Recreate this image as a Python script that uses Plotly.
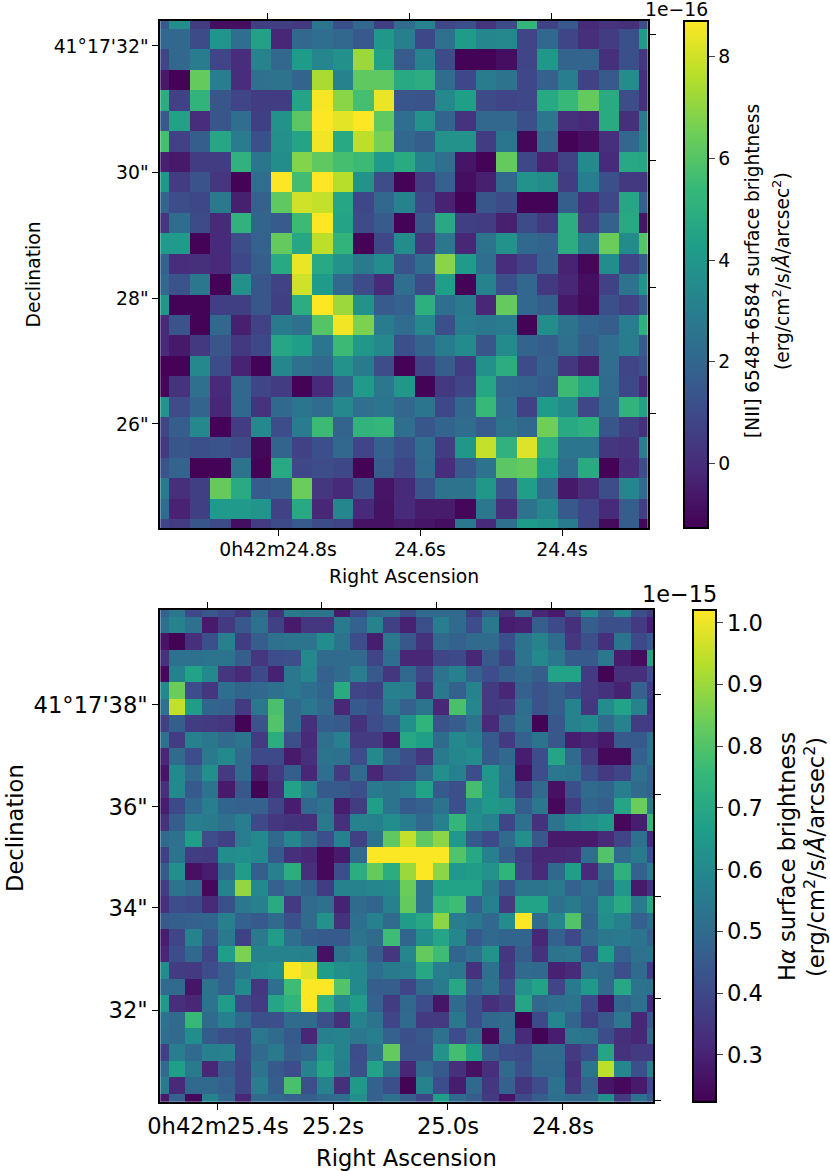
import plotly.graph_objects as go

# [NII] surface brightness, units of 1e-16, rows from top to bottom
nii = [
[1.5,3.6,0.5,-0.9,-0.9,0.6,0.6,0.4,2.6,1.2,2.0,0.6,2.2,3.2,0.9,1.2,0.2,1.0,5.3,0.7,1.5,-0.1,0.2,0.1,1.1],
[2.0,2.0,1.0,3.9,2.3,4.4,-0.2,2.0,2.3,2.0,1.5,4.0,3.0,0.9,2.4,4.2,3.3,3.4,0.8,2.1,0.8,0.1,0.5,1.2,4.2],
[0.8,2.0,2.9,0.8,0.0,3.2,2.0,4.2,3.3,3.7,7.2,4.4,1.6,3.2,1.0,-1.2,-1.2,-0.9,0.8,4.0,1.9,1.9,0.1,1.2,0.3],
[-0.6,-1.2,6.3,3.0,0.0,2.4,2.5,1.9,7.4,3.2,6.2,6.2,4.7,4.9,2.2,0.9,2.9,2.5,0.9,1.8,3.0,0.7,1.5,3.6,0.1],
[4.9,0.7,5.2,1.4,0.8,0.5,0.5,4.5,8.6,6.9,5.7,8.4,1.4,1.3,3.4,4.3,1.0,0.8,0.9,4.7,5.4,6.3,4.8,1.1,0.1],
[1.5,4.4,0.0,1.4,2.3,0.6,3.8,6.1,8.7,8.3,8.7,6.2,2.3,3.8,1.9,0.2,2.0,2.0,1.2,2.7,0.1,-0.1,4.8,0.1,2.8],
[5.7,0.7,1.7,4.6,2.9,1.2,3.7,4.5,8.5,4.7,7.7,6.6,2.0,1.7,3.8,3.8,0.5,2.6,-1.1,2.0,-1.2,-0.9,0.1,2.0,3.2],
[-0.4,-0.6,0.5,0.5,5.1,2.6,3.6,6.8,6.2,5.7,5.5,4.1,4.8,3.2,2.4,-0.7,-1.2,6.3,0.9,-0.3,0.7,3.5,-0.1,4.7,4.6],
[4.0,0.5,1.3,0.3,-1.2,2.3,8.7,5.6,8.7,7.6,3.8,1.1,-1.2,0.5,1.8,-0.9,-0.4,2.0,3.8,3.6,0.5,3.0,1.2,0.4,0.4],
[1.9,1.1,0.9,2.8,-0.4,1.8,6.2,8.0,7.8,4.6,0.9,2.0,3.2,0.9,-0.3,-1.2,1.4,1.0,-1.2,-1.2,1.7,0.1,0.9,4.6,1.8],
[0.3,2.2,1.0,-0.1,5.1,1.9,1.6,5.5,8.7,4.5,1.0,1.6,-1.2,1.4,4.7,0.6,0.5,-0.4,1.0,0.4,4.9,0.5,1.8,4.7,-0.7],
[4.1,4.1,-1.2,-0.1,1.1,1.8,6.3,4.6,7.7,5.2,-1.2,0.9,3.6,0.3,2.7,-0.2,2.5,3.8,2.1,1.9,4.9,2.9,6.4,3.5,6.0],
[1.8,0.0,0.1,-0.1,0.9,1.7,4.7,8.4,4.7,3.8,2.8,3.6,1.3,2.3,6.9,4.1,2.3,0.0,0.7,1.8,-0.3,-1.1,3.6,0.8,1.6],
[2.0,1.3,2.7,-1.2,3.7,1.4,0.7,8.0,4.2,2.1,1.0,-0.1,2.3,1.0,4.3,-1.2,3.2,1.2,2.0,0.4,-0.2,-0.9,0.7,2.5,3.9],
[4.0,-1.2,-1.2,0.6,0.6,1.4,0.6,4.9,8.7,7.2,3.8,1.6,1.8,5.0,2.3,2.8,-0.2,6.3,2.0,1.7,-0.6,-1.0,1.2,0.7,1.5],
[-0.1,1.3,-1.2,2.0,-0.4,0.7,2.8,2.4,6.0,8.5,6.7,2.9,2.2,3.4,1.2,2.9,2.7,2.9,-1.2,3.6,2.5,1.9,1.7,3.0,5.0],
[-0.1,-0.6,0.4,1.4,0.4,0.9,4.6,4.3,2.6,5.5,4.0,3.4,1.2,1.9,2.9,3.5,1.4,3.5,1.9,1.7,2.4,1.7,2.3,2.9,1.6],
[-1.2,-1.2,3.4,1.0,-0.3,-1.2,3.3,2.4,2.1,3.8,2.8,1.1,-1.2,0.7,1.7,0.5,3.7,4.9,1.0,1.8,0.3,-0.4,2.3,0.8,1.2],
[-1.1,0.2,2.4,-0.1,2.0,0.8,0.5,-1.2,-0.1,1.9,4.1,2.7,4.0,-1.2,0.4,0.8,4.6,2.0,1.9,1.6,5.5,4.6,2.2,0.9,-0.1],
[3.8,1.1,1.9,-0.2,2.1,0.2,2.1,2.6,2.2,3.4,2.4,2.6,2.0,2.6,0.9,2.0,5.4,2.3,0.7,4.1,3.5,0.9,2.0,5.2,4.4],
[0.8,1.7,3.4,-1.2,0.5,3.4,1.1,2.9,5.5,1.9,5.2,5.3,2.3,1.4,1.9,2.2,1.6,2.5,2.1,6.5,4.7,5.0,1.4,0.6,0.1],
[0.4,1.4,1.2,1.3,1.0,-1.1,1.9,0.7,1.2,2.0,0.8,1.8,1.2,2.3,0.5,4.0,7.8,5.1,8.2,4.9,2.6,2.6,0.3,0.2,3.0],
[1.3,1.9,-1.2,-1.2,2.5,-1.2,4.7,0.9,1.1,0.9,-1.2,1.6,0.8,2.2,0.0,1.5,2.5,6.1,6.3,4.2,2.3,4.8,-1.2,0.0,1.1],
[2.8,0.1,0.6,6.3,4.8,1.6,1.8,6.4,0.3,-0.1,1.2,-0.7,-0.1,1.3,2.5,2.5,4.0,1.3,4.3,2.2,-0.6,0.0,1.1,3.3,2.2],
[2.2,-0.3,0.6,4.1,4.1,3.9,0.7,4.7,-0.2,3.3,-0.1,-0.8,-0.1,-0.5,-0.5,-1.1,2.7,0.1,2.5,3.3,1.5,0.8,-0.1,1.7,0.6],
[0.8,0.5,1.4,1.0,-0.9,0.5,1.0,1.6,1.0,0.8,-0.8,-0.8,-0.5,-0.7,-0.9,2.7,-0.1,2.4,4.2,3.9,2.9,0.8,-1.0,1.7,-1.1],
]

# H-alpha surface brightness, units of 1e-15, rows from top to bottom
halpha = [
[.47,.54,.40,.44,.40,.35,.50,.33,.55,.53,.53,.28,.40,.50,.52,.42,.50,.50,.50,.36,.47,.33,.50,.31,.28,.44,.60,.46,.60,.42,.36],
[.51,.58,.52,.28,.36,.44,.52,.38,.28,.35,.35,.55,.47,.58,.38,.30,.42,.56,.50,.41,.54,.29,.30,.46,.40,.33,.46,.42,.42,.36,.29],
[.27,.23,.33,.42,.57,.37,.46,.52,.53,.53,.61,.53,.41,.29,.54,.44,.34,.50,.47,.50,.50,.42,.53,.58,.50,.35,.42,.33,.53,.40,.45],
[.34,.52,.52,.53,.53,.46,.35,.41,.42,.60,.50,.50,.50,.39,.51,.31,.31,.39,.40,.31,.45,.38,.53,.60,.54,.45,.45,.54,.29,.25,.68],
[.24,.57,.68,.60,.35,.32,.40,.30,.54,.59,.47,.50,.56,.45,.35,.49,.39,.53,.57,.47,.41,.46,.49,.46,.68,.68,.36,.23,.33,.33,.42],
[.60,.84,.41,.35,.51,.48,.49,.52,.54,.51,.48,.71,.39,.38,.57,.56,.33,.54,.47,.58,.36,.31,.47,.43,.46,.42,.36,.34,.30,.47,.37],
[.52,.95,.66,.48,.47,.36,.54,.79,.50,.54,.50,.31,.45,.42,.54,.47,.53,.31,.79,.59,.36,.37,.51,.43,.46,.58,.35,.61,.68,.58,.34],
[.38,.46,.37,.36,.35,.23,.43,.80,.50,.33,.46,.45,.34,.41,.45,.62,.74,.43,.46,.53,.32,.46,.52,.23,.44,.58,.60,.50,.58,.37,.36],
[.52,.37,.57,.54,.50,.53,.36,.72,.42,.32,.52,.57,.36,.36,.29,.70,.67,.50,.60,.56,.45,.36,.47,.53,.44,.29,.31,.28,.45,.45,.52],
[.31,.50,.41,.55,.60,.50,.40,.40,.28,.33,.53,.52,.41,.60,.48,.42,.35,.55,.59,.61,.45,.49,.29,.41,.69,.50,.36,.24,.24,.47,.52],
[.27,.60,.50,.62,.36,.50,.28,.36,.46,.31,.51,.36,.50,.31,.39,.40,.50,.62,.57,.41,.64,.53,.26,.41,.54,.53,.42,.36,.39,.52,.47],
[.33,.60,.45,.53,.28,.44,.23,.33,.68,.58,.45,.45,.42,.55,.53,.56,.68,.45,.42,.78,.64,.52,.38,.50,.26,.42,.50,.48,.56,.50,.47],
[.29,.40,.49,.56,.48,.47,.47,.39,.29,.49,.53,.29,.37,.67,.53,.45,.47,.53,.42,.60,.65,.63,.46,.54,.24,.37,.48,.46,.69,.84,.55],
[.34,.46,.56,.55,.52,.56,.40,.35,.34,.33,.55,.33,.58,.57,.61,.56,.49,.57,.75,.61,.58,.39,.52,.34,.53,.60,.62,.65,.24,.29,.75],
[.50,.52,.67,.41,.38,.56,.60,.49,.59,.50,.42,.57,.38,.53,.82,.95,.82,.88,.65,.45,.40,.50,.62,.44,.28,.28,.28,.32,.39,.52,.31],
[.38,.53,.37,.36,.61,.62,.60,.45,.33,.31,.24,.28,.50,1.02,1.02,1.02,1.02,1.02,.80,.70,.57,.46,.38,.31,.31,.32,.51,.80,.50,.55,.42],
[.45,.62,.26,.29,.50,.66,.46,.57,.72,.33,.24,.41,.72,.83,.72,.90,1.02,.88,.65,.66,.63,.74,.39,.32,.49,.67,.32,.50,.73,.47,.56],
[.37,.53,.49,.24,.58,.89,.60,.47,.52,.47,.37,.58,.58,.59,.60,.84,.53,.68,.68,.68,.55,.44,.53,.53,.55,.47,.51,.46,.64,.28,.34],
[.33,.41,.40,.32,.42,.54,.57,.71,.36,.50,.52,.30,.50,.48,.57,.83,.53,.75,.77,.47,.57,.36,.68,.68,.52,.55,.50,.63,.71,.55,.70],
[.45,.46,.47,.48,.57,.47,.45,.50,.42,.50,.63,.34,.51,.57,.50,.66,.70,.88,.56,.54,.49,.61,1.02,.50,.59,.80,.48,.62,.57,.47,.51],
[.29,.39,.58,.44,.55,.38,.55,.66,.51,.46,.45,.45,.53,.50,.77,.48,.62,.69,.59,.45,.49,.48,.48,.31,.47,.40,.50,.54,.55,.53,.47],
[.31,.41,.49,.39,.67,.86,.58,.58,.58,.57,.26,.53,.57,.46,.35,.59,.83,.77,.48,.52,.63,.35,.46,.34,.53,.54,.40,.67,.47,.52,.53],
[.61,.37,.36,.41,.47,.54,.60,.62,1.02,.98,.66,.62,.60,.51,.55,.56,.70,.56,.54,.34,.52,.36,.50,.49,.30,.32,.52,.50,.42,.50,.36],
[.50,.50,.27,.53,.47,.60,.35,.51,.77,1.02,1.02,.80,.60,.46,.46,.39,.50,.55,.70,.47,.53,.41,.63,.68,.39,.55,.65,.50,.70,.53,.51],
[.65,.33,.31,.53,.66,.40,.36,.69,.74,1.02,.73,.60,.66,.47,.37,.49,.41,.27,.50,.42,.33,.37,.69,.49,.51,.53,.40,.27,.48,.52,.32],
[.53,.50,.76,.50,.57,.49,.42,.42,.50,.50,.42,.33,.58,.53,.39,.50,.36,.36,.54,.42,.49,.50,.23,.40,.59,.48,.38,.44,.54,.31,.45],
[.51,.50,.61,.45,.42,.40,.54,.50,.45,.31,.57,.58,.54,.56,.47,.42,.44,.52,.41,.50,.24,.50,.32,.23,.29,.54,.53,.41,.33,.31,.50],
[.38,.56,.50,.57,.58,.40,.50,.55,.46,.49,.64,.58,.41,.53,.83,.43,.43,.63,.78,.67,.46,.41,.40,.50,.50,.36,.41,.69,.34,.36,.36],
[.50,.67,.55,.31,.45,.39,.53,.45,.41,.58,.69,.56,.42,.68,.53,.31,.50,.45,.33,.26,.33,.50,.42,.49,.49,.34,.53,.94,.59,.42,.57],
[.55,.32,.49,.49,.47,.39,.56,.46,.79,.42,.58,.33,.65,.47,.42,.23,.58,.41,.29,.49,.35,.47,.35,.41,.52,.35,.47,.27,.24,.28,.40],
[.28,.47,.24,.58,.49,.31,.50,.49,.47,.46,.50,.51,.62,.47,.52,.46,.39,.67,.50,.46,.36,.27,.40,.46,.51,.50,.50,.62,.36,.52,.45],
]

# Tick labels and positions expressed in map-pixel units
nii_ra_labels = ["0h42m24.8s", "24.6s", "24.4s"]
nii_ra_bottom = [5.815, 12.76, 19.70]
nii_ra_top = [5.28, 12.22, 19.17]
nii_dec_labels = ["41°17'32\"", "30\"", "28\"", "26\""]
nii_dec_left = [1.33, 7.50, 13.67, 19.83]
nii_dec_right = [0.79, 6.96, 13.13, 19.30]
nii_cbar_ticks = [0, 2, 4, 6, 8]

ha_ra_labels = ["0h42m25.4s", "25.2s", "25.0s", "24.8s"]
ha_ra_bottom = [3.475, 10.46, 17.44, 24.42]
ha_ra_top = [2.81, 9.79, 16.77, 23.75]
ha_dec_labels = ["41°17'38\"", "36\"", "34\"", "32\""]
ha_dec_left = [5.86, 12.06, 18.2, 24.4]
ha_dec_right = [5.2, 11.33, 17.53, 23.7, 29.9]
ha_cbar_ticks = [0.3, 0.4, 0.5, 0.6, 0.7, 0.8, 0.9, 1.0]

W, H = 830, 1171
FONT = "DejaVu Sans"
LINE = dict(showline=True, linecolor="black", linewidth=2, ticks="outside",
            ticklen=6, tickwidth=1.2, tickcolor="black", showgrid=False, zeroline=False)


def panel(fig, n, z, zmin, zmax, dom_px_x, dom_px_y, xr, yr, xb, xt, xl, yl, yr_ticks, yl_lab,
          cbx, cbw, cbticks, tick_size, ticks_fmt):
    a = n * 2 - 1
    b = n * 2
    dx = [dom_px_x[0] / W, dom_px_x[1] / W]
    dy = [1 - dom_px_y[1] / H, 1 - dom_px_y[0] / H]
    fig.add_trace(go.Heatmap(
        z=z, colorscale="Viridis", zmin=zmin, zmax=zmax, xaxis=f"x{a}", yaxis=f"y{a}",
        hoverinfo="skip", xgap=0, ygap=0,
        colorbar=dict(x=cbx / W, xanchor="left", thickness=cbw, thicknessmode="pixels",
                      len=dy[1] - dy[0], lenmode="fraction", y=dy[0], yanchor="bottom",
                      xpad=0, ypad=0, outlinewidth=2, outlinecolor="black", tickvals=cbticks,
                      ticks="outside", ticklen=6, tickwidth=1.2, tickformat=ticks_fmt,
                      tickfont=dict(size=tick_size, family=FONT, color="black"))))
    fig.add_trace(go.Scatter(x=[None], y=[None], xaxis=f"x{b}", yaxis=f"y{b}", showlegend=False,
                             hoverinfo="skip"))
    fig.update_layout(**{
        f"xaxis{a}": dict(domain=dx, range=xr, anchor=f"y{a}", side="bottom", mirror=True,
                          tickvals=xb, ticktext=xl, ticklabelstandoff=-3,
                          tickfont=dict(size=tick_size, family=FONT, color="black"), **LINE),
        f"yaxis{a}": dict(domain=dy, range=yr, anchor=f"x{a}", side="left", mirror=True,
                          tickvals=yl, ticktext=yl_lab,
                          tickfont=dict(size=tick_size, family=FONT, color="black"), **LINE),
        f"xaxis{b}": dict(domain=dx, range=xr, anchor=f"y{b}", side="top", overlaying=f"x{a}",
                          tickvals=xt, showticklabels=False, **LINE),
        f"yaxis{b}": dict(domain=dy, range=yr, anchor=f"x{b}", side="right", overlaying=f"y{a}",
                          tickvals=yr_ticks, showticklabels=False, **LINE),
    })


fig = go.Figure()
panel(fig, 1, nii, -1.27, 8.69, (160.3, 647.7), (21, 528.3),
      [0.06, 23.89], [24.94, 0.108],
      nii_ra_bottom, nii_ra_top, nii_ra_labels, nii_dec_left, nii_dec_right, nii_dec_labels,
      683.7, 24, nii_cbar_ticks, 18.8, "d")
panel(fig, 2, halpha, 0.224, 1.021, (160.3, 653), (609.5, 1101.7),
      [-0.028, 29.89], [29.97, 0.063],
      ha_ra_bottom, ha_ra_top, ha_ra_labels, ha_dec_left, ha_dec_right, ha_dec_labels,
      692.7, 23, ha_cbar_ticks, 22.6, ".1f")

labels = [
    (404, 576, "Right Ascension", 18.8, 0),
    (33, 274.5, "Declination", 18.8, -90),
    (406.6, 1158, "Right Ascension", 22.6, 0),
    (15, 828, "Declination", 22.6, -90),
    (753, 271, "[NII] 6548+6584 surface brightness", 18.6, -90),
    (781, 271, "(erg/cm<sup>2</sup>/s/<i>Å</i>/arcsec<sup>2</sup>)", 18.6, -90),
    (787, 857, "H<i>α</i> surface brightness", 22.6, -90),
    (814, 857, "(erg/cm<sup>2</sup>/s/<i>Å</i>/arcsec<sup>2</sup>)", 22.6, -90),
    (676.5, 9, "1e−16", 18.8, 0),
    (679, 594, "1e−15", 22.4, 0),
]
for x, y, t, s, ang in labels:
    fig.add_annotation(x=x / W, y=1 - y / H, xref="paper", yref="paper", text=t, showarrow=False,
                       textangle=ang, xanchor="center", yanchor="middle",
                       font=dict(size=s, family=FONT, color="black"))

fig.update_layout(width=W, height=H, margin=dict(l=0, r=0, t=0, b=0, autoexpand=False),
                  paper_bgcolor="white", plot_bgcolor="white", showlegend=False,
                  font=dict(family=FONT, color="black"))
fig.write_html("out.html", config={"displayModeBar": False},
               post_script="document.body.style.margin='0';document.body.style.overflow='hidden';")
